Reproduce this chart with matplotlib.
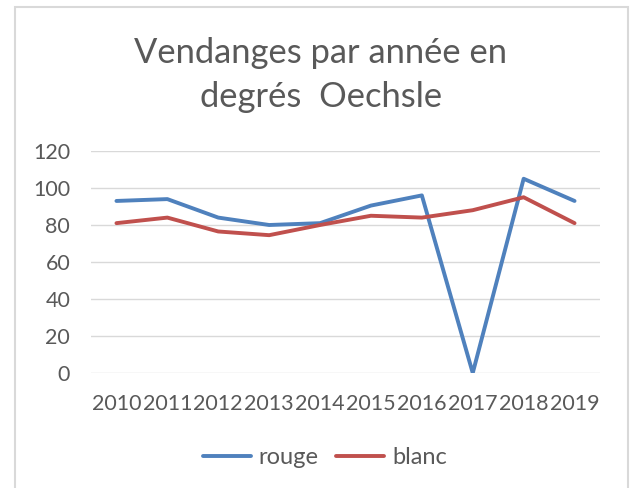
import matplotlib
matplotlib.use("Agg")
import matplotlib.pyplot as plt
from matplotlib.patches import Rectangle

years = ["2010", "2011", "2012", "2013", "2014", "2015", "2016", "2017", "2018", "2019"]
rouge = [93, 94, 84, 80, 81, 90.5, 96, 0, 105, 93]
blanc = [81, 84, 76.5, 74.5, 80, 85, 84, 88, 95, 81]
title_lines = ["Vendanges par année en", "degrés  Oechsle"]

TEXT = "#595959"
plt.rcParams["font.family"] = ["Lato", "DejaVu Sans"]

fig = plt.figure(figsize=(6.3, 4.88), dpi=100)
W, H = 630, 488

# chart frame (bottom edge runs off the canvas)
fig.patches.append(Rectangle((15 / W, -0.05), (628 - 15) / W, (H - 7) / H + 0.05,
                             transform=fig.transFigure, fill=False,
                             edgecolor="#d9d9d9", lw=1.5))

ax = fig.add_axes([91 / W, (H - 373) / H, (600 - 91) / W, (373 - 151) / H])
x = list(range(len(years)))
ax.plot(x, rouge, color="#4F81BD", lw=2.8, label="rouge", solid_capstyle="round")
ax.plot(x, blanc, color="#C0504D", lw=2.8, label="blanc", solid_capstyle="round")

ax.set_xlim(-0.5, len(years) - 0.5)
ax.set_ylim(0, 120)
ax.set_yticks(range(0, 121, 20))
ax.set_xticks(x)
ax.set_xticklabels(years)
ax.grid(axis="y", color="#d9d9d9", lw=1)
ax.set_axisbelow(True)
for s in ax.spines.values():
    s.set_visible(False)
ax.tick_params(axis="both", length=0, labelsize=15.5, labelcolor=TEXT)
ax.tick_params(axis="y", pad=15)
ax.tick_params(axis="x", pad=15)

# two-line title, baselines placed explicitly
for line, base in zip(title_lines, (63, 107)):
    fig.text(321 / W, (H - base) / H, line, ha="center", va="baseline",
             fontsize=24.8, color=TEXT)

leg = fig.legend(loc="center", bbox_to_anchor=(325 / W, (H - 458) / H), ncol=2,
                 frameon=False, fontsize=17, handlelength=2.0, handletextpad=0.35,
                 columnspacing=0.75, labelcolor=TEXT)

fig.savefig("out.png", dpi=100)
